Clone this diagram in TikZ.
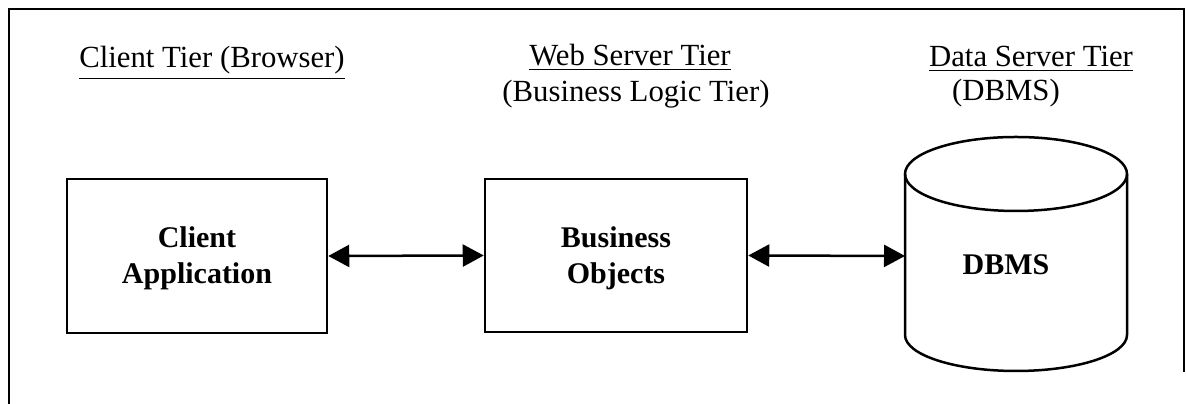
\documentclass[tikz,border=0pt]{standalone}
\usepackage{fontspec}
\setmainfont{Liberation Serif}
\usetikzlibrary{arrows.meta}
\begin{document}
\begin{tikzpicture}[x=0.4pt,y=0.4pt,
  line width=1pt,
  tierlabel/.style={anchor=base,inner sep=0pt,font=\fontsize{12.3}{14.4}\selectfont},
  tierbox/.style={draw,rectangle,line width=1pt,minimum width=104pt,minimum height=61.5pt,
    align=center,font=\bfseries\fontsize{12}{14.4}\selectfont},
  boxtext/.style={align=center,inner sep=0pt,font=\bfseries\fontsize{12}{14.4}\selectfont},
  link/.style={{Triangle[length=8.4pt,width=8.8pt]}-{Triangle[length=8.4pt,width=8.8pt]},line width=1pt}]
\useasboundingbox (0,0) rectangle (1186,404);

% outer frame (open at the bottom)
\draw[line width=1pt] (9,0) -- (9,395) -- (1184,395) -- (1184,32);

% tier headings
\node[tierlabel] (ct) at (212,336) {\underline{Client Tier (Browser)}};
\node[tierlabel] (ws) at (630,338) {\underline{Web Server Tier}};
\node[tierlabel] (bl) at (636,302) {(Business Logic Tier)};
\node[tierlabel] (ds) at (1031,337) {\underline{Data Server Tier}};
\node[tierlabel] (dm) at (1006,303) {(DBMS)};

% client and business boxes
\node[draw,rectangle,minimum width=104pt,minimum height=61.6pt,inner sep=0pt] (ca) at (197,148) {};
\node[boxtext] at (197,146) {Client\\Application};
\node[draw,rectangle,minimum width=104.8pt,minimum height=61.2pt,inner sep=0pt] (bo) at (616,148.5) {};
\node[boxtext] at (616,146) {Business\\Objects};

% database cylinder
\draw (905,230) -- (905,69)
  arc[start angle=180,end angle=360,x radius=111,y radius=36]
  -- (1127,230);
\draw (1016,230) ellipse[x radius=111,y radius=37];
\coordinate (db) at (905,148);
\node[boxtext] (dbt) at (1006,139) {DBMS};

% connectors
\draw[link] (ca.east) -- (bo.west);
\draw[link] (bo.east) -- (db);
\end{tikzpicture}
\end{document}
